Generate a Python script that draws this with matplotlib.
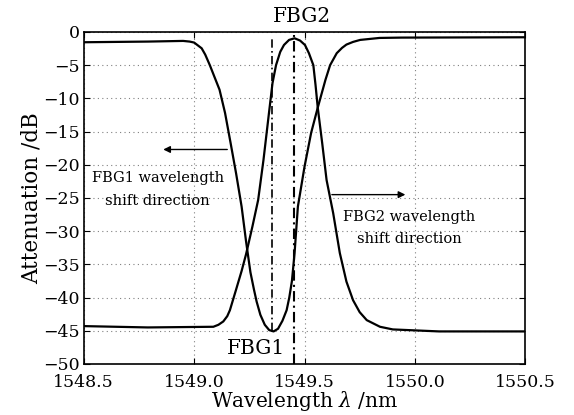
import matplotlib
matplotlib.use("Agg")
import matplotlib.pyplot as plt
import numpy as np

# FBG1 transmission (dB)
fbg1_wl = [1548.50, 1548.79, 1548.95, 1548.98, 1549.00, 1549.034, 1549.05, 1549.071,
           1549.09, 1549.115, 1549.14, 1549.165, 1549.19, 1549.215, 1549.235, 1549.255,
           1549.271, 1549.283, 1549.30, 1549.32, 1549.34, 1549.36, 1549.38, 1549.40,
           1549.419, 1549.431, 1549.443, 1549.455, 1549.47, 1549.50, 1549.53, 1549.56,
           1549.595, 1549.616, 1549.646, 1549.67, 1549.69, 1549.72, 1549.752, 1549.84,
           1549.94, 1550.50]
fbg1_db = [-1.55, -1.45, -1.35, -1.45, -1.6, -2.46, -3.4, -5.0,
           -6.6, -8.7, -12.2, -16.7, -21.3, -26.3, -31.5, -36.2,
           -38.8, -40.6, -42.6, -44.1, -44.9, -45.1, -44.7, -43.5,
           -41.9, -40.0, -37.5, -33.3, -26.3, -20.3, -15.2, -11.4,
           -7.2, -5.0, -3.2, -2.4, -1.9, -1.5, -1.2, -0.9,
           -0.85, -0.8]

# FBG2 transmission (dB)
fbg2_wl = [1548.50, 1548.79, 1549.087, 1549.11, 1549.132, 1549.15, 1549.162, 1549.19,
           1549.215, 1549.235, 1549.264, 1549.29, 1549.314, 1549.339, 1549.355, 1549.371,
           1549.39, 1549.407, 1549.43, 1549.455, 1549.48, 1549.502, 1549.52, 1549.54,
           1549.55, 1549.56, 1549.58, 1549.60, 1549.63, 1549.66, 1549.69, 1549.72,
           1549.75, 1549.782, 1549.842, 1549.90, 1550.11, 1550.50]
fbg2_db = [-44.3, -44.5, -44.4, -44.1, -43.6, -42.8, -41.9, -38.8,
           -36.0, -33.5, -29.3, -25.3, -19.3, -12.2, -7.7, -5.0,
           -3.0, -1.96, -1.2, -0.95, -1.3, -1.96, -3.2, -5.0,
           -8.0, -11.4, -16.7, -22.3, -27.3, -33.3, -37.6, -40.4,
           -42.2, -43.4, -44.4, -44.8, -45.1, -45.1]

# centre wavelengths marked with dash-dot lines
fbg1_center = 1549.353
fbg2_center = 1549.452

plt.rcParams["font.family"] = ["DejaVu Serif"]
plt.rcParams["mathtext.fontset"] = "dejavuserif"

fig = plt.figure(figsize=(5.74, 4.15), dpi=100)
ax = fig.add_axes([0.146, 0.123, 0.769, 0.8])

ax.plot(fbg1_wl, fbg1_db, color="k", lw=1.6)
ax.plot(fbg2_wl, fbg2_db, color="k", lw=1.6)

ax.plot([fbg1_center, fbg1_center], [-45.1, -0.7], color="k", lw=1.2,
        linestyle=(0, (5, 2, 1, 2)))
ax.plot([fbg2_center, fbg2_center], [-50, -0.4], color="k", lw=1.5,
        linestyle=(0, (5, 2, 1, 2)))

ax.text(1549.49, 0.9, "FBG2", ha="center", va="bottom", fontsize=14.5, clip_on=False)
ax.text(1549.28, -47.6, "FBG1", ha="center", va="center", fontsize=14.5)

ax.annotate("", xy=(1548.86, -17.7), xytext=(1549.15, -17.7),
            arrowprops=dict(arrowstyle="-|>", color="k", lw=1.0,
                            mutation_scale=10, shrinkA=0, shrinkB=0))
ax.annotate("", xy=(1549.957, -24.5), xytext=(1549.624, -24.5),
            arrowprops=dict(arrowstyle="-|>", color="k", lw=1.0,
                            mutation_scale=10, shrinkA=0, shrinkB=0))

ax.text(1548.835, -22.0, "FBG1 wavelength", ha="center", va="center", fontsize=10.5)
ax.text(1548.835, -25.5, "shift direction", ha="center", va="center", fontsize=10.5)
ax.text(1549.974, -27.8, "FBG2 wavelength", ha="center", va="center", fontsize=10.5)
ax.text(1549.974, -31.2, "shift direction", ha="center", va="center", fontsize=10.5)

ax.set_xlim(1548.5, 1550.5)
ax.set_ylim(-50, 0)
ax.set_xticks([1548.5, 1549.0, 1549.5, 1550.0, 1550.5])
ax.set_xticklabels(["1548.5", "1549.0", "1549.5", "1550.0", "1550.5"])
ax.set_yticks(np.arange(-50, 1, 5))

ax.tick_params(direction="in", top=True, right=True, length=4, labelsize=12.5)
ax.tick_params(axis="y", pad=3)
ax.tick_params(axis="x", pad=7)
ax.grid(color="gray", linestyle=(0, (1, 3)), lw=0.8)
for side in ax.spines.values():
    side.set_linewidth(1.2)

ax.set_xlabel(r"Wavelength $\lambda$ /nm", fontsize=14.5, labelpad=-1)
ax.set_ylabel("Attenuation /dB", fontsize=15.5, labelpad=0)

fig.savefig("out.png", dpi=100)
